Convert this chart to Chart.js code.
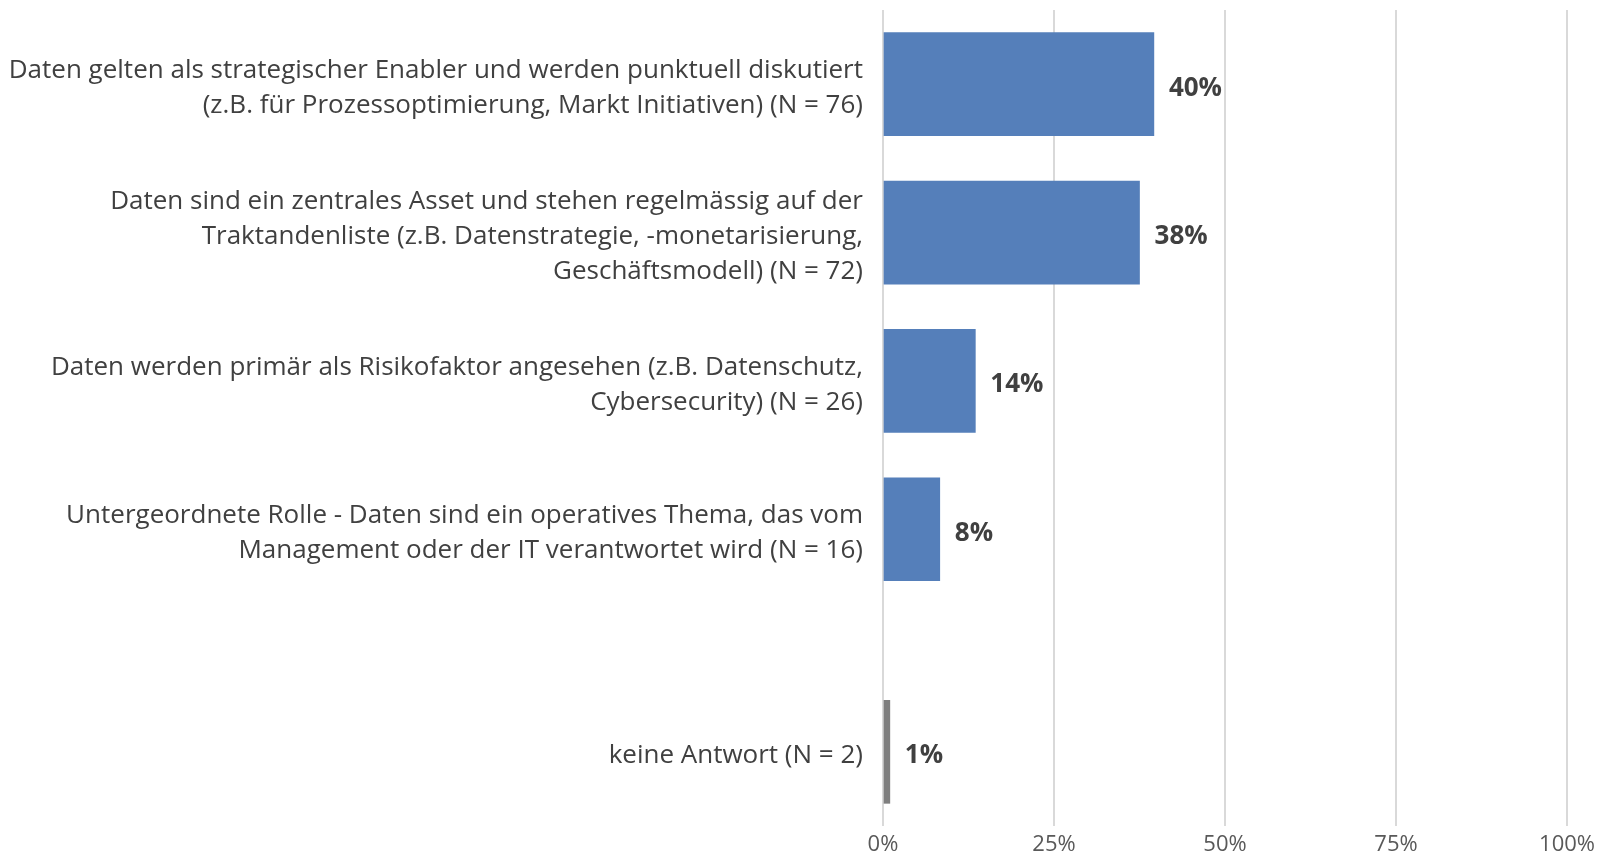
<!DOCTYPE html>
<html>
<head>
<meta charset="utf-8">
<script src="https://cdn.jsdelivr.net/npm/chart.js@4.4.1/dist/chart.umd.min.js"></script>
<style>
  html, body { margin: 0; padding: 0; background: #fff; }
  #wrap { width: 1601px; height: 851px; }
</style>
</head>
<body>
<div id="wrap"><canvas id="canvas"></canvas></div>
<script>
// answers (multi-line labels), empty strings are spacer rows like in the original chart
const categories = [
  '',
  ['Daten gelten als strategischer Enabler und werden punktuell diskutiert', '(z.B. für Prozessoptimierung, Markt Initiativen) (N = 76)'],
  '',
  ['Daten sind ein zentrales Asset und stehen regelmässig auf der', 'Traktandenliste (z.B. Datenstrategie, -monetarisierung,', 'Geschäftsmodell) (N = 72)'],
  '',
  ['Daten werden primär als Risikofaktor angesehen (z.B. Datenschutz,', 'Cybersecurity) (N = 26)'],
  '',
  ['Untergeordnete Rolle - Daten sind ein operatives Thema, das vom', 'Management oder der IT verantwortet wird (N = 16)'],
  '',
  '',
  'keine Antwort (N = 2)',
  ''
];
// share in percent
const values = [null, 39.6, null, 37.5, null, 13.5, null, 8.3, null, null, 1.0, null];
const barColors = [null, '#557fba', null, '#557fba', null, '#557fba', null, '#557fba', null, null, '#7f7f7f', null];
const xTicks = [0, 25, 50, 75, 100];

const FONT = '"Open Sans", "Noto Sans", sans-serif';

const valueLabels = {
  id: 'valueLabels',
  beforeDraw(chart) {
    // nudge category labels a bit down, like the original
    chart.scales.y.getLabelItems().forEach(it => {
      if (!it._moved) { it.options.translation[1] += 4; it._moved = true; }
    });
  },
  afterDatasetsDraw(chart) {
    const ctx = chart.ctx;
    const meta = chart.getDatasetMeta(0);
    ctx.save();
    ctx.font = 'bold 26px ' + FONT;
    ctx.fillStyle = '#404040';
    ctx.textBaseline = 'middle';
    ctx.textAlign = 'left';
    meta.data.forEach((bar, i) => {
      const v = values[i];
      if (v === null) return;
      ctx.fillText(Math.round(v) + '%', bar.x + 15, bar.y + 4);
    });
    ctx.restore();
  }
};

new Chart(document.getElementById('canvas').getContext('2d'), {
  type: 'bar',
  data: {
    labels: categories,
    datasets: [{
      data: values,
      backgroundColor: barColors,
      barThickness: 103,
      borderWidth: 0
    }]
  },
  options: {
    indexAxis: 'y',
    responsive: true,
    maintainAspectRatio: false,
    animation: false,
    layout: { padding: { top: 10, right: 31, left: 0, bottom: 0 } },
    plugins: {
      legend: { display: false },
      tooltip: { enabled: false }
    },
    scales: {
      x: {
        min: 0,
        max: 100,
        afterBuildTicks(scale) { scale.ticks = xTicks.map(v => ({ value: v })); },
        grid: { color: '#d9d9d9', lineWidth: 2, drawTicks: false },
        border: { display: false },
        ticks: {
          padding: 6,
          color: '#595959',
          font: { family: FONT, size: 22 },
          callback: v => v + '%'
        },
        afterFit(scale) { scale.height = 25; }
      },
      y: {
        offset: false,
        grid: { display: false, drawTicks: false },
        border: { display: false },
        ticks: {
          autoSkip: false,
          padding: 20,
          color: '#404040',
          font: { family: FONT, size: 26, lineHeight: 1.36 }
        },
        afterFit(scale) {
          scale.width = 883;
          scale.paddingTop = 0;
          scale.paddingBottom = 0;
        }
      }
    }
  },
  plugins: [valueLabels]
});
</script>
</body>
</html>
